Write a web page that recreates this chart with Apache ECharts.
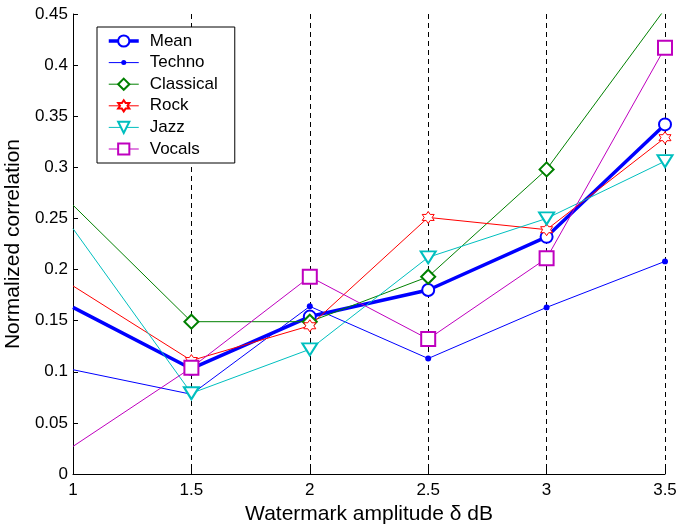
<!DOCTYPE html>
<html>
<head>
<meta charset="utf-8">
<script src="https://cdn.jsdelivr.net/npm/echarts@6/dist/echarts.min.js"></script>
<style>html,body{margin:0;padding:0;background:#fff}#c{width:679px;height:529px}</style>
</head>
<body>
<div id="c"></div>
<script>
const xValues = [1, 1.5, 2, 2.5, 3, 3.5];
const seriesNames = ['Mean', 'Techno', 'Classical', 'Rock', 'Jazz', 'Vocals'];
const mean = [0.163, 0.103, 0.154, 0.180, 0.232, 0.342];
const techno = [0.102, 0.078, 0.164, 0.113, 0.163, 0.208];
const classical = [0.263, 0.149, 0.149, 0.193, 0.298, 0.455];
const rock = [0.184, 0.111, 0.145, 0.251, 0.239, 0.329];
const jazz = [0.240, 0.079, 0.122, 0.212, 0.250, 0.306];
const vocals = [0.027, 0.104, 0.193, 0.132, 0.211, 0.417];

const FONT = '"Liberation Sans", Arial, sans-serif';
const hexagram = 'path://M10,0 L12.887,5 L18.66,5 L15.774,10 L18.66,15 L12.887,15 L10,20 L7.113,15 L1.34,15 L4.226,10 L1.34,5 L7.113,5 Z';
// small dot inside a larger (invisible) box so the legend icon stays small
const smallDot = 'path://M0,0 M20,20 M14.5,10 A4.5,4.5 0 1 1 5.5,10 A4.5,4.5 0 1 1 14.5,10 Z';

function pts(arr) {
  return xValues.map((x, i) => i === 0 ? { value: [x, arr[i]], symbol: 'none' } : [x, arr[i]]);
}

function mk(name, arr, color, symbol, size, lw, extra) {
  return Object.assign({
    name: name,
    type: 'line',
    data: pts(arr),
    symbol: symbol,
    symbolSize: size,
    clip: true,
    animation: false,
    lineStyle: { color: color, width: lw },
    itemStyle: { color: color, borderWidth: 1 },
    emphasis: { disabled: true }
  }, extra || {});
}

const series = [
  mk(seriesNames[0], mean, '#0000ff', 'emptyCircle', 12, 3.5, { itemStyle: { color: '#0000ff', borderWidth: 3 } }),
  mk(seriesNames[1], techno, '#0000ff', smallDot, 13.3, 1),
  mk(seriesNames[2], classical, '#008000', 'emptyDiamond', 14, 1),
  mk(seriesNames[3], rock, '#ff0000', hexagram, 12, 1, { itemStyle: { color: '#ffffff', borderColor: '#ff0000', borderWidth: 1 } }),
  mk(seriesNames[4], jazz, '#00bfbf', 'emptyTriangle', [15, 12], 1, { symbolRotate: 180 }),
  mk(seriesNames[5], vocals, '#bf00bf', 'emptyRect', 14, 1)
];

const legendWidths = [3.5, 1, 1, 1, 1, 1];

const chart = echarts.init(document.getElementById('c'), null, { renderer: 'canvas' });
chart.setOption({
  backgroundColor: '#fff',
  animation: false,
  textStyle: { fontFamily: FONT },
  grid: { left: 73, right: 14, top: 14, bottom: 55, containLabel: false, outerBoundsMode: 'none' },
  legend: {
    data: seriesNames.map((n, i) => ({ name: n, lineStyle: { width: legendWidths[i] } })),
    orient: 'vertical',
    left: 97,
    top: 27,
    itemWidth: 30,
    itemHeight: 14,
    itemGap: 4.6,
    padding: [5.5, 17, 5.5, 10],
    borderColor: '#000',
    borderWidth: 1,
    backgroundColor: '#fff',
    textStyle: { fontFamily: FONT, fontSize: 17, color: '#000', padding: [0, 0, 0, 6] }
  },
  xAxis: {
    type: 'value',
    min: 1, max: 3.5, interval: 0.5,
    name: 'Watermark amplitude δ dB',
    nameLocation: 'middle',
    nameGap: 27,
    nameTextStyle: { fontFamily: FONT, fontSize: 21, color: '#000' },
    axisLine: { show: true, onZero: false, lineStyle: { color: '#000', width: 1 } },
    axisTick: { show: true, inside: true, length: 5, lineStyle: { color: '#000' } },
    axisLabel: { fontFamily: FONT, fontSize: 17, color: '#000', margin: 8 },
    splitLine: { show: true, lineStyle: { color: '#000', type: [5, 4], width: 1 } }
  },
  yAxis: {
    type: 'value',
    min: 0, max: 0.45, interval: 0.05,
    name: 'Normalized correlation',
    nameLocation: 'middle',
    nameGap: 46,
    nameTextStyle: { fontFamily: FONT, fontSize: 21, color: '#000' },
    axisLine: { show: true, onZero: false, lineStyle: { color: '#000', width: 1 } },
    axisTick: { show: true, inside: true, length: 5, lineStyle: { color: '#000' } },
    axisLabel: { fontFamily: FONT, fontSize: 17, color: '#000', margin: 5 },
    splitLine: { show: false }
  },
  series: series
});
</script>
</body>
</html>
